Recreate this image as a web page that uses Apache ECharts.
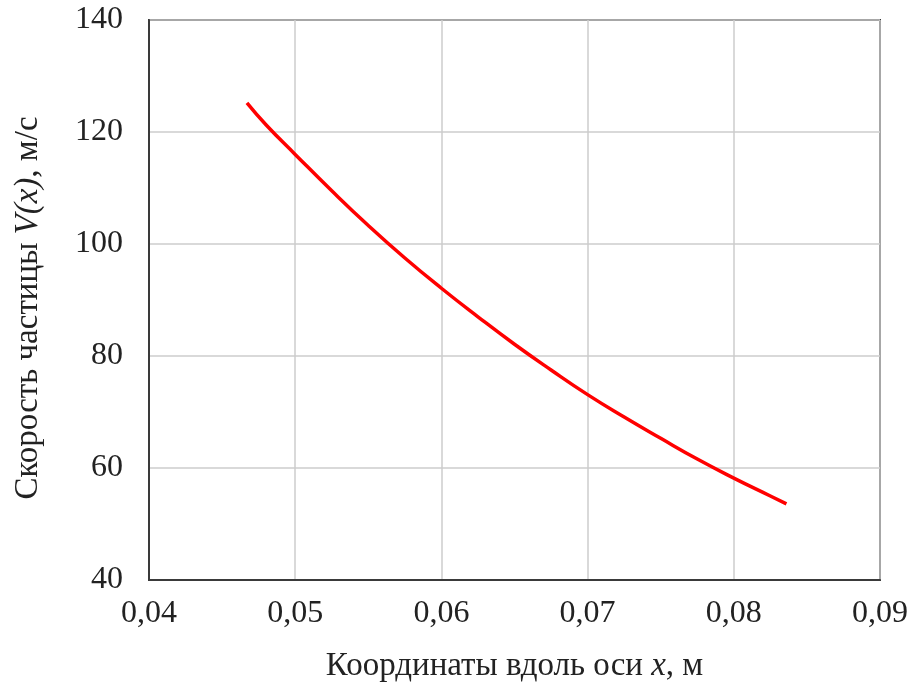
<!DOCTYPE html>
<html>
<head>
<meta charset="utf-8">
<script src="https://cdn.jsdelivr.net/npm/echarts@6/dist/echarts.min.js"></script>
<style>
  html, body { margin: 0; padding: 0; background: #fff; }
  #chart { width: 910px; height: 682px; }
</style>
</head>
<body>
<div id="chart"></div>
<script>
// координата x, м
let xCoord = [0.0467, 0.048, 0.050, 0.0525, 0.055, 0.0575, 0.060, 0.0625, 0.065,
              0.0675, 0.070, 0.0725, 0.075, 0.0775, 0.080, 0.0825, 0.0836];
// скорость частицы V(x), м/с
let velocity = [125.2, 121.3, 116.0, 109.5, 103.3, 97.5, 92.1, 87.0, 82.1,
                77.5, 73.1, 69.1, 65.3, 61.6, 58.2, 55.0, 53.6];

let xTicks = [0.04, 0.05, 0.06, 0.07, 0.08, 0.09];
let yTicks = [40, 60, 80, 100, 120, 140];

let font = 'Liberation Serif';

let myChart = echarts.init(document.getElementById('chart'));
let option = {
    animation: false,
    grid: {
        left: 149,
        right: 30,
        top: 20,
        bottom: 102,
        containLabel: false,
        outerBoundsMode: 'none',
        show: true,
        borderColor: '#3a3a3a',
        borderWidth: 2
    },
    xAxis: {
        type: 'value',
        min: xTicks[0],
        max: xTicks[xTicks.length - 1],
        interval: 0.01,
        name: 'Координаты вдоль оси {i|x}, м',
        nameLocation: 'middle',
        nameGap: 70,
        nameTextStyle: {
            fontFamily: font,
            fontSize: 33,
            color: '#222',
            rich: {
                i: { fontFamily: font, fontSize: 33, fontStyle: 'italic', color: '#222' }
            }
        },
        axisLine: { lineStyle: { color: '#3a3a3a', width: 2 } },
        axisTick: { show: false },
        axisLabel: {
            margin: 18,
            fontFamily: font,
            fontSize: 32,
            color: '#222',
            formatter: function (v) { return v.toFixed(2).replace('.', ','); }
        },
        splitLine: { lineStyle: { color: '#cccccc', width: 1.5 } }
    },
    yAxis: {
        type: 'value',
        min: yTicks[0],
        max: yTicks[yTicks.length - 1],
        interval: 20,
        name: 'Скорость частицы {i|V(x)}, м/с',
        nameLocation: 'middle',
        nameGap: 104,
        nameTextStyle: {
            fontFamily: font,
            fontSize: 33,
            color: '#222',
            padding: [0, 16, 0, 0],
            rich: {
                i: { fontFamily: font, fontSize: 33, fontStyle: 'italic', color: '#222' }
            }
        },
        axisLine: { show: true, lineStyle: { color: '#3a3a3a', width: 2 } },
        axisTick: { show: false },
        axisLabel: {
            margin: 26,
            fontFamily: font,
            fontSize: 32,
            color: '#222'
        },
        splitLine: { lineStyle: { color: '#cccccc', width: 1.5 } }
    },
    series: [{
        type: 'line',
        data: xCoord.map((x, i) => [x, velocity[i]]),
        smooth: true,
        showSymbol: false,
        lineStyle: { color: '#ff0000', width: 3.5 }
    }]
};
myChart.setOption(option);
</script>
</body>
</html>
